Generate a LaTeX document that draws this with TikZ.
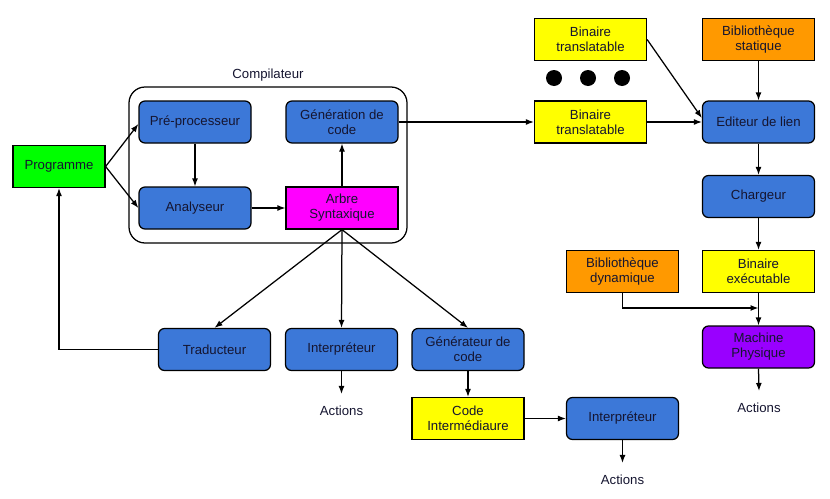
\documentclass[tikz,border=0pt]{standalone}
\usepackage{fontspec}
\setmainfont{Liberation Sans}
\usetikzlibrary{arrows.meta}
\definecolor{cblue}{HTML}{3C78D8}
\definecolor{cgreen}{HTML}{00FF00}
\definecolor{cmag}{HTML}{FF00FF}
\definecolor{cyel}{HTML}{FFFF00}
\definecolor{corange}{HTML}{FF9900}
\definecolor{cpurple}{HTML}{9900FF}
\definecolor{ctext}{HTML}{151530}
\tikzset{
  base/.style={draw=black, line width=1.25pt, minimum width=112pt, minimum height=42pt,
    align=center, font=\fontsize{13.2}{15}\selectfont, text=ctext, inner sep=1pt},
  bluebox/.style={base, fill=cblue, rounded corners=6pt},
  purplebox/.style={base, fill=cpurple, rounded corners=6pt},
  yelbox/.style={base, fill=cyel},
  orbox/.style={base, fill=corange},
  magbox/.style={base, fill=cmag},
  greenbox/.style={base, fill=cgreen, minimum width=92pt},
  actlabel/.style={font=\fontsize{13.2}{15}\selectfont, text=ctext, inner xsep=1pt, inner ysep=12pt},
  arr/.style={draw=black, line width=1.25pt, -{Latex[length=8pt,width=6pt]}},
}
\begin{document}
\begin{tikzpicture}[x=1pt,y=-1pt]
\useasboundingbox (0,0) rectangle (830,498);
% compilateur frame
\node[draw=black, line width=1.25pt, rounded corners=16pt, minimum width=278pt, minimum height=156pt, inner sep=0pt] (comp) at (268,165) {};
\node[font=\fontsize{13.2}{15}\selectfont, text=ctext] (complab) at (268,75) {Compilateur};

\node[greenbox] (prog) at (59,166.5) {Programme};
\node[bluebox] (pre) at (195,122) {Pré-processeur};
\node[bluebox] (ana) at (195,208) {Analyseur};
\node[bluebox] (gen) at (342,122) {Génération de\\code};
\node[magbox] (arbre) at (342,208) {Arbre\\Syntaxique};

\node[yelbox] (bin1) at (590.5,39.5) {Binaire\\translatable};
\node[yelbox] (bin2) at (590.5,122) {Binaire\\translatable};
\node[circle, fill=black, minimum size=16pt, inner sep=0pt] (d1) at (554,78) {};
\node[circle, fill=black, minimum size=16pt, inner sep=0pt] (d2) at (588,78) {};
\node[circle, fill=black, minimum size=16pt, inner sep=0pt] (d3) at (622,78) {};

\node[orbox] (bibs) at (758.5,39.5) {Bibliothèque\\statique};
\node[bluebox] (edit) at (758.5,122) {Editeur de lien};
\node[bluebox] (charg) at (758.5,196.5) {Chargeur};
\node[yelbox] (binex) at (758.5,271.5) {Binaire\\exécutable};
\node[orbox] (bibd) at (622.5,271.5) {Bibliothèque\\dynamique};
\node[purplebox] (mach) at (758.5,347) {Machine\\Physique};
\node[actlabel] (act2) at (759,408) {Actions};

\node[bluebox] (trad) at (214.5,349.5) {Traducteur};
\node[bluebox] (interp) at (341.5,349.5) {Interpréteur};
\node[bluebox] (gcode) at (468,349.5) {Générateur de\\code};
\node[actlabel] (act1) at (341.5,411) {Actions};
\node[yelbox] (code) at (468,418.5) {Code\\Intermédiaure};
\node[bluebox] (interp2) at (622.5,418.5) {Interpréteur};
\node[actlabel] (act3) at (622.5,480) {Actions};

% connectors
\draw[arr] (prog.east) -- ([yshift=-2pt]pre.west);
\draw[arr] (prog.east) -- (ana.west);
\draw[arr] (pre.south) -- (ana.north);
\draw[arr] (ana.east) -- (arbre.west);
\draw[arr] (arbre.north) -- (gen.south);
\draw[arr] (gen.east) -- (bin2.west);
\draw[arr] (bin2.east) -- (edit.west);
\draw[arr] (bin1.east) -- ([yshift=4pt]edit.west);
\draw[arr] (bibs.south) -- (edit.north);
\draw[arr] (edit.south) -- (charg.north);
\draw[arr] (charg.south) -- (binex.north);
\draw[arr] (binex.south) -- (mach.north);
\coordinate (join) at (758.5,308);
\draw[arr] (bibd.south) |- (join);
\draw[arr] (mach.south) -- (act2.north);

\draw[arr] (arbre.south) -- (trad.north);
\draw[arr] (arbre.south) -- (interp.north);
\draw[arr] (arbre.south) -- (gcode.north);
\draw[arr] (trad.west) -| (prog.south);
\draw[arr] (interp.south) -- (act1.north);
\draw[arr] (gcode.south) -- (code.north);
\draw[arr] (code.east) -- (interp2.west);
\draw[arr] (interp2.south) -- (act3.north);
\end{tikzpicture}
\end{document}
